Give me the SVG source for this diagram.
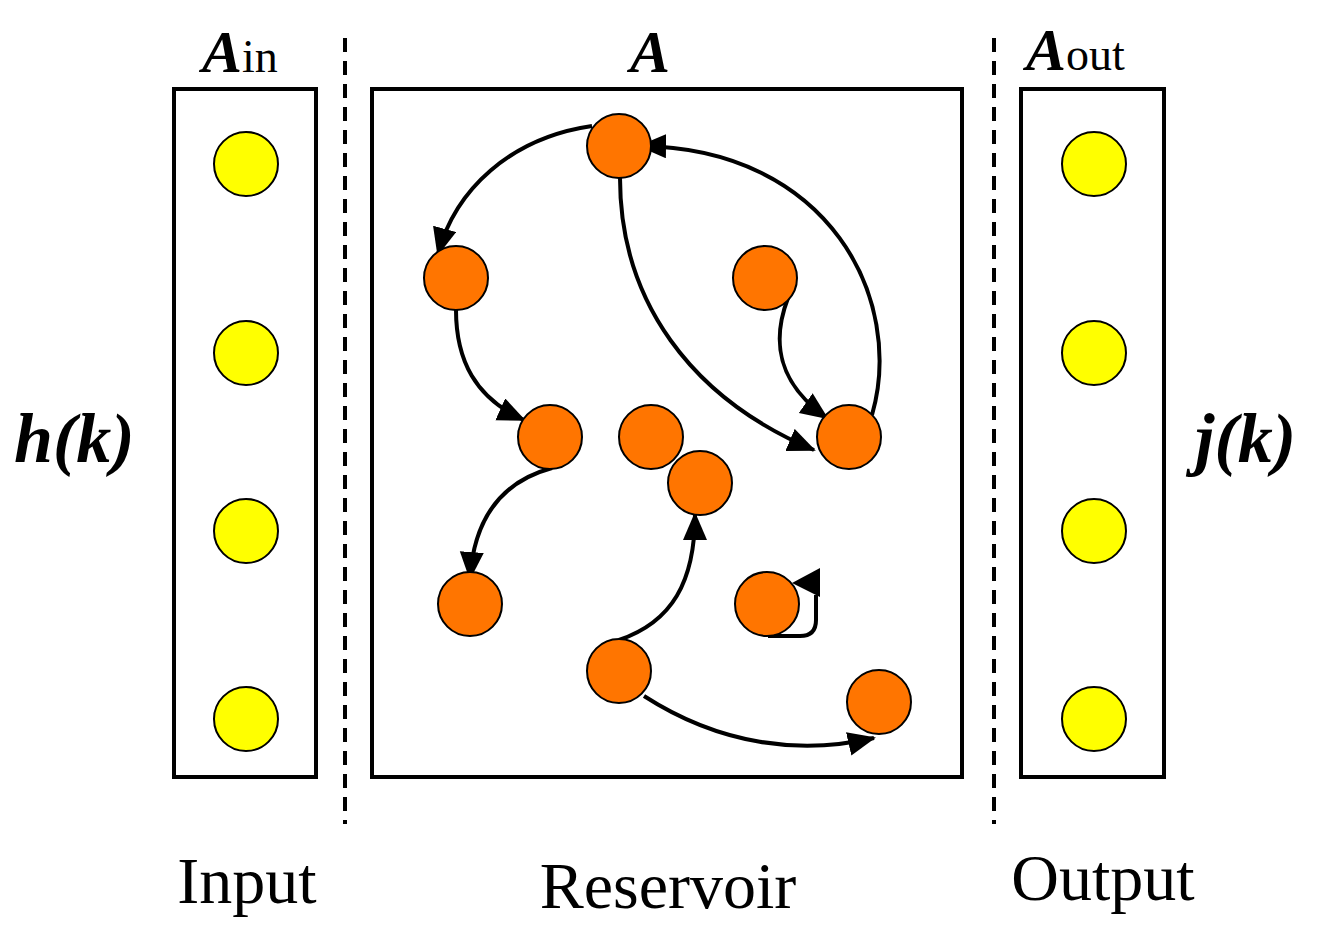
<svg xmlns="http://www.w3.org/2000/svg" width="1329" height="933" viewBox="0 0 1329 933">
<style>
.box{fill:none;stroke:#000;stroke-width:4}
.in{fill:#FFFF00;stroke:#000;stroke-width:2}
.res{fill:#FF7500;stroke:#000;stroke-width:2}
.e{fill:none;stroke:#000;stroke-width:4}
.dash{stroke:#000;stroke-width:4;stroke-dasharray:14 9}
.lbl{font-family:"Liberation Serif",serif;font-size:66px}
.math{font-family:"Liberation Serif",serif;font-weight:bold;font-style:italic}
</style>
<defs>
<marker id="ah" markerUnits="userSpaceOnUse" markerWidth="30" markerHeight="26" refX="26" refY="12" orient="auto"><path d="M0,0 L28,12 L0,24 Z" fill="#000"/></marker>
</defs>
<rect width="1329" height="933" fill="#fff"/>
<g id="frames">
<rect class="box" x="174" y="89" width="142" height="688"/>
<rect class="box" x="372" y="89" width="590" height="688"/>
<rect class="box" x="1021" y="89" width="143" height="688"/>
<line class="dash" x1="345" y1="38" x2="345" y2="824"/>
<line class="dash" x1="994" y1="38" x2="994" y2="824"/>
</g>
<g id="connectors">
<path class="e" d="M592,126 C510,138 455,190 438,254" marker-end="url(#ah)"/>
<path class="e" d="M872,415 C905,300 830,148 640,146" marker-end="url(#ah)"/>
<path class="e" d="M620,178 C620,300 690,398 814,450" marker-end="url(#ah)"/>
<path class="e" d="M788,298 C770,345 780,385 827,418" marker-end="url(#ah)"/>
<path class="e" d="M456,310 C456,360 475,398 524,420" marker-end="url(#ah)"/>
<path class="e" d="M552,468 C500,482 474,520 470,578" marker-end="url(#ah)"/>
<path class="e" d="M619,640 C672,622 695,582 695,514" marker-end="url(#ah)"/>
<path class="e" d="M644,696 C720,745 800,755 874,738" marker-end="url(#ah)"/>
<path class="e" d="M768,636 L800,636 Q816,636 816,620 L816,595"/>
<polygon points="792,583 820,568 820,597" fill="#000"/>
</g>
<g id="input-nodes">
<circle class="in" cx="246" cy="164" r="32"/>
<circle class="in" cx="246" cy="353" r="32"/>
<circle class="in" cx="246" cy="531" r="32"/>
<circle class="in" cx="246" cy="719" r="32"/>
</g>
<g id="output-nodes">
<circle class="in" cx="1094" cy="164" r="32"/>
<circle class="in" cx="1094" cy="353" r="32"/>
<circle class="in" cx="1094" cy="531" r="32"/>
<circle class="in" cx="1094" cy="719" r="32"/>
</g>
<g id="reservoir-nodes">
<circle class="res" cx="619" cy="146" r="32"/>
<circle class="res" cx="456" cy="278" r="32"/>
<circle class="res" cx="765" cy="278" r="32"/>
<circle class="res" cx="550" cy="437" r="32"/>
<circle class="res" cx="651" cy="437" r="32"/>
<circle class="res" cx="700" cy="483" r="32"/>
<circle class="res" cx="849" cy="437" r="32"/>
<circle class="res" cx="470" cy="604" r="32"/>
<circle class="res" cx="767" cy="604" r="32"/>
<circle class="res" cx="619" cy="671" r="32"/>
<circle class="res" cx="879" cy="702" r="32"/>
</g>
<g id="labels">
<text x="202" y="72"><tspan class="math" font-size="60">A</tspan><tspan font-family="Liberation Serif,serif" font-size="46">in</tspan></text>
<text class="math" x="650" y="72" font-size="60" text-anchor="middle">A</text>
<text x="1026" y="70"><tspan class="math" font-size="60">A</tspan><tspan font-family="Liberation Serif,serif" font-size="46">out</tspan></text>
<text class="math" x="14" y="462" font-size="70">h(k)</text>
<text class="math" x="1195" y="462" font-size="70">j(k)</text>
<text class="lbl" x="247" y="903" text-anchor="middle">Input</text>
<text class="lbl" x="668" y="908" text-anchor="middle">Reservoir</text>
<text class="lbl" x="1103" y="900" text-anchor="middle">Output</text>
</g>
</svg>
